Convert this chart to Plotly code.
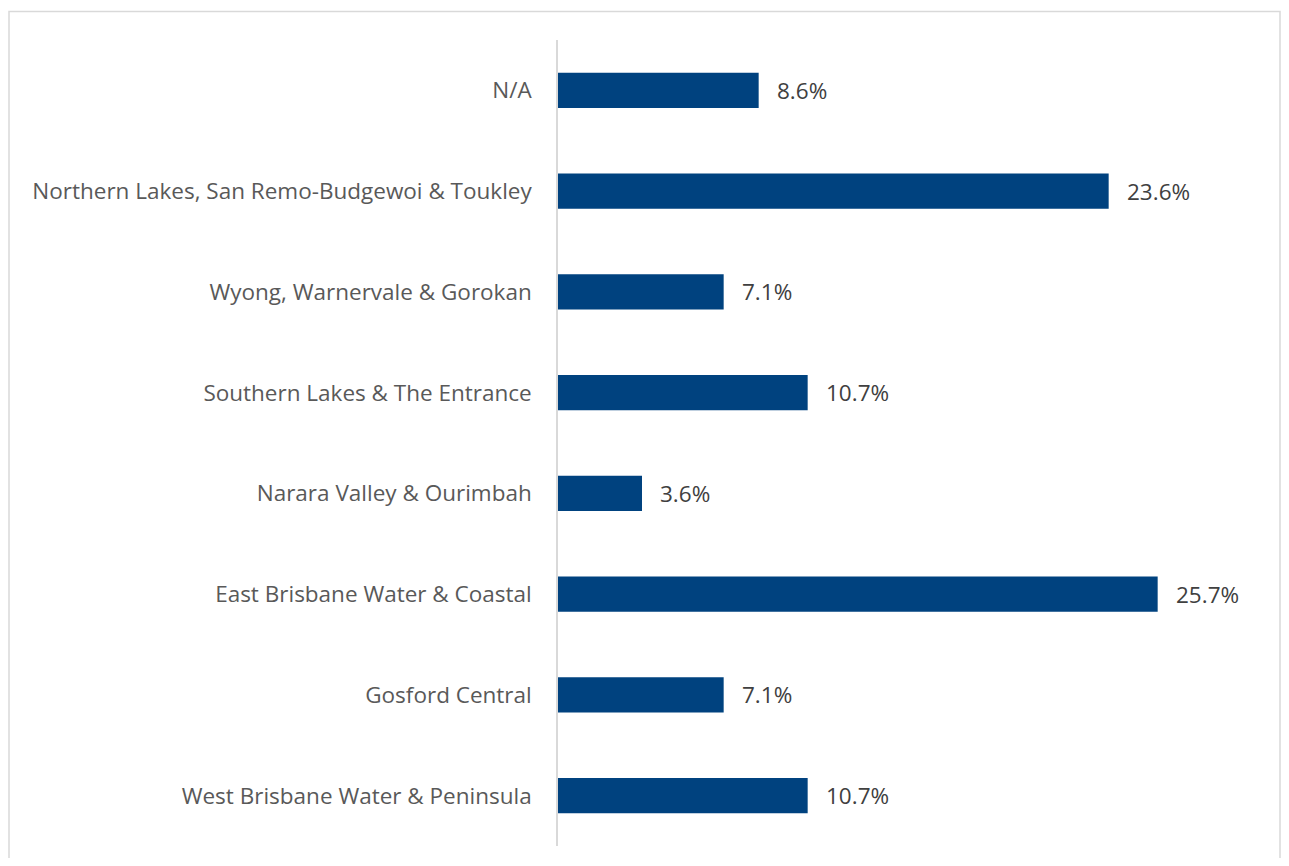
import plotly.graph_objects as go

categories = [
    "N/A",
    "Northern Lakes, San Remo-Budgewoi & Toukley",
    "Wyong, Warnervale & Gorokan",
    "Southern Lakes & The Entrance",
    "Narara Valley & Ourimbah",
    "East Brisbane Water & Coastal",
    "Gosford Central",
    "West Brisbane Water & Peninsula",
]
values = [8.6, 23.6, 7.1, 10.7, 3.6, 25.7, 7.1, 10.7]
labels = [f"{v:.1f}%" for v in values]

# page has an 8px body margin; compensate so the figure lands where the reference is
OFF = 8
W, H = 1289 - 2 * OFF, 866 - 2 * OFF
L, T = 558 - OFF, 40 - OFF
R = W - (1258 - OFF)
B = H - (846 - OFF)
pw, ph = W - L - R, H - T - B

fig = go.Figure()
fig.add_trace(go.Bar(
    y=categories, x=values, orientation="h",
    marker=dict(color="#00427F", line=dict(width=0)),
    width=0.35, hoverinfo="skip",
))
for c, v, t in zip(categories, values, labels):
    fig.add_annotation(x=v, y=c, text=t, showarrow=False, xanchor="left",
                       xshift=16, font=dict(size=22.5, color="#404040", family="Open Sans"))

def fx(p):  # figure pixel -> paper x
    return (p - L) / pw

def fy(p):  # figure pixel -> paper y
    return 1 - (p - T) / ph

fig.add_shape(type="rect", xref="paper", yref="paper",
              x0=fx(1), x1=fx(W - 1), y0=fy(H + 40), y1=fy(11.5 - OFF),
              line=dict(color="#D9D9D9", width=1.5), layer="below")

fig.update_layout(
    width=W, height=H,
    margin=dict(l=L, r=R, t=T, b=B, autoexpand=False),
    plot_bgcolor="white", paper_bgcolor="white",
    showlegend=False,
    font=dict(family="Open Sans", size=22.5, color="#595959"),
    xaxis=dict(range=[0, 30], visible=False, fixedrange=True),
    yaxis=dict(categoryorder="array", categoryarray=categories[::-1],
               showline=True, linecolor="#D9D9D9", linewidth=1.5,
               showgrid=False, zeroline=False, ticks="",
               ticklabelstandoff=20,
               tickfont=dict(size=22.5, color="#595959", family="Open Sans"),
               range=[-0.5, 7.5]),
)
fig.write_html("out.html")
